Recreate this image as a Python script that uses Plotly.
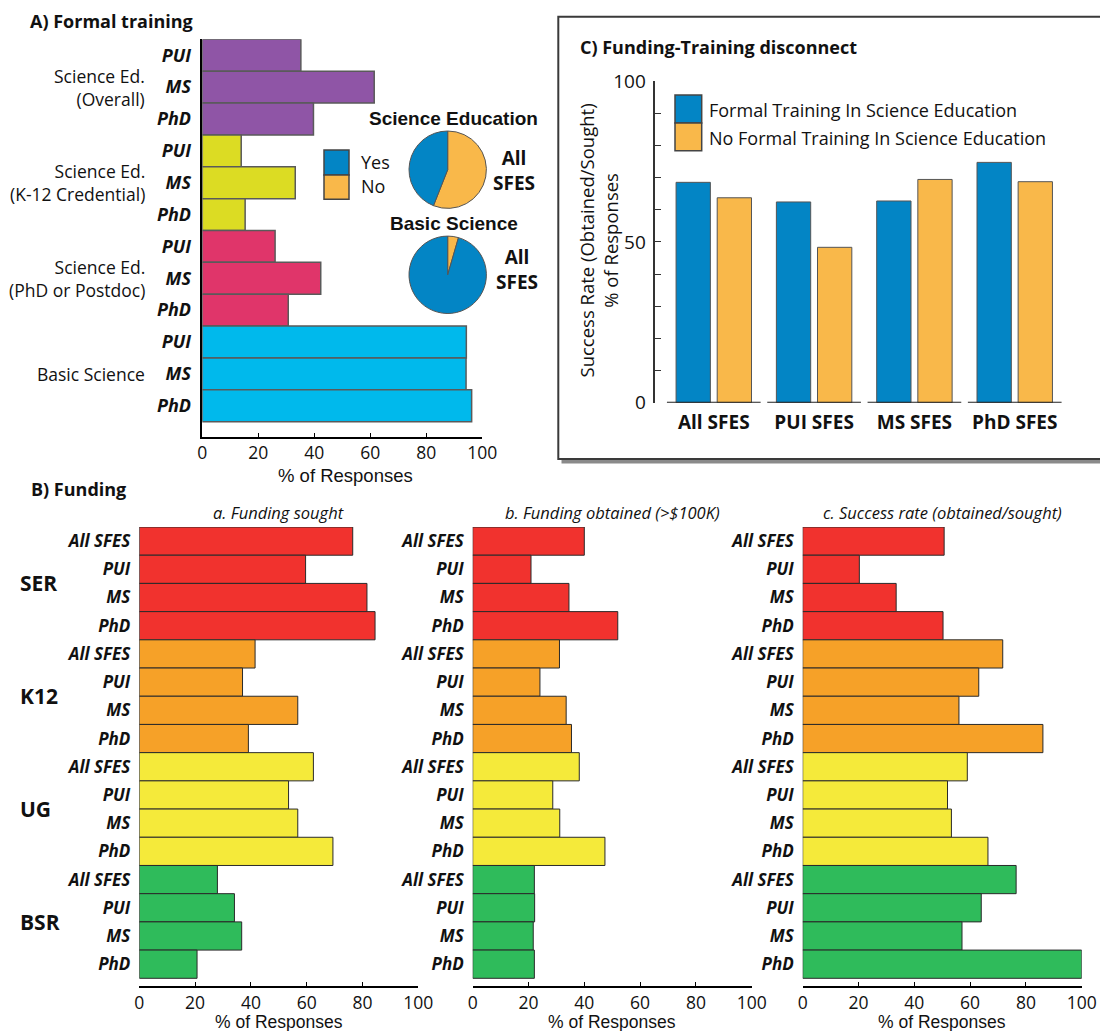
import plotly.graph_objects as go

W, H = 1100, 1031


def fx(px):
    return px / W


def fy(py):
    return 1 - py / H


SANS = "Open Sans"
ARIAL = "Liberation Sans"
INK = "#111111"

# ---------------- A) Formal training ----------------
formal_groups = ["Science Ed.<br>(Overall)", "Science Ed.<br>(K-12 Credential)",
                 "Science Ed.<br>(PhD or Postdoc)", "Basic Science"]
formal_levels = ["PUI", "MS", "PhD"]
formal_overall = [35.2, 61.4, 39.7]
formal_k12 = [13.9, 33.2, 15.3]
formal_phd_postdoc = [26.0, 42.3, 30.7]
formal_basic = [94.3, 94.2, 96.2]
formal_colors = ["#8f55a6", "#dcdc23", "#e0356a", "#00b9ec"]

pie_labels = ["No", "Yes"]
pie_science_ed = [56, 44]
pie_basic_science = [4.5, 95.5]
pie_colors = ["#f9b84a", "#0385c5"]

# ---------------- C) Funding-Training disconnect ----------------
c_categories = ["All SFES", "PUI SFES", "MS SFES", "PhD SFES"]
c_trained = [68.5, 62.4, 62.7, 74.7]
c_untrained = [63.7, 48.3, 69.4, 68.7]
c_series = ["Formal Training In Science Education", "No Formal Training In Science Education"]

# ---------------- B) Funding ----------------
fund_groups = ["SER", "K12", "UG", "BSR"]
fund_rows = ["All SFES", "PUI", "MS", "PhD"]
fund_sought = [76.5, 59.6, 81.6, 84.5,
               41.5, 37.0, 56.8, 39.1,
               62.4, 53.5, 56.8, 69.4,
               28.0, 34.1, 36.7, 20.7]
fund_obtained = [40.0, 20.9, 34.5, 52.0,
                 31.1, 24.1, 33.5, 35.4,
                 38.2, 28.7, 31.2, 47.4,
                 22.1, 22.2, 21.7, 22.1]
fund_success = [50.7, 20.3, 33.5, 50.3,
                71.7, 63.1, 56.0, 86.1,
                59.0, 51.9, 53.3, 66.4,
                76.5, 64.0, 57.1, 100.0]
fund_colors = ["#f1322e", "#f6a128", "#f5ea3a", "#2fbb5b"]
fund_panels = ["a. Funding sought", "b. Funding obtained (>$100K)", "c. Success rate (obtained/sought)"]

fig = go.Figure()

# ---- Panel A bars ----
formal_values = formal_overall + formal_k12 + formal_phd_postdoc + formal_basic
n_lv = len(formal_levels)
formal_bar_colors = [formal_colors[i // n_lv] for i in range(len(formal_values))]
formal_pos = list(range(len(formal_values)))
fig.add_trace(go.Bar(
    x=formal_values, y=formal_pos, orientation="h", width=1,
    marker=dict(color=formal_bar_colors, line=dict(color="#5a5a5a", width=1.5)),
    xaxis="x", yaxis="y", showlegend=False, hoverinfo="x"))

# ---- Panel A pies ----
for vals, cy in ((pie_science_ed, 169.7), (pie_basic_science, 274.8)):
    r = 38.7
    fig.add_trace(go.Pie(
        labels=pie_labels, values=vals, sort=False, direction="clockwise", rotation=0,
        marker=dict(colors=pie_colors, line=dict(color="#555555", width=1)),
        textinfo="none", hoverinfo="label+percent", showlegend=False,
        domain=dict(x=[fx(447.7 - r), fx(447.7 + r)], y=[fy(cy + r), fy(cy - r)])))

# ---- Panel C bars ----
c_pos = list(range(len(c_categories)))
for vals, color, off, name in ((c_trained, pie_colors[1], -0.376, c_series[0]),
                               (c_untrained, pie_colors[0], 0.034, c_series[1])):
    fig.add_trace(go.Bar(
        x=c_pos, y=vals, width=0.342, offset=off, name=name,
        marker=dict(color=color, line=dict(color="#555555", width=1)),
        xaxis="x2", yaxis="y2", showlegend=False))

# ---- Panel B bars ----
fund_pos = list(range(len(fund_sought)))
n_rows = len(fund_rows)
fund_bar_colors = [fund_colors[i // n_rows] for i in fund_pos]
for k, vals in enumerate((fund_sought, fund_obtained, fund_success)):
    fig.add_trace(go.Bar(
        x=vals, y=fund_pos, orientation="h", width=1,
        marker=dict(color=fund_bar_colors, line=dict(color="#2a2a2a", width=1)),
        xaxis=f"x{k + 3}", yaxis=f"y{k + 3}", showlegend=False, hoverinfo="x"))

tick_font = dict(family=SANS, size=17.5, color=INK)
bi_font = dict(family=SANS, size=18, color=INK)

layout_axes = {}
# Panel A axes
layout_axes["xaxis"] = dict(
    domain=[fx(202.3), fx(482.3)], range=[0, 100], anchor="y", automargin=False,
    tickvals=[0, 20, 40, 60, 80, 100], ticks="inside", ticklen=4, tickcolor="black",
    showline=True, linecolor="black", linewidth=1.5, showgrid=False, zeroline=False,
    ticklabelstandoff=0, tickfont=tick_font)
layout_axes["yaxis"] = dict(
    domain=[fy(436.5), fy(39.3)], range=[11.964, -0.5], anchor="x", automargin=False,
    tickvals=formal_pos, ticktext=[f"<b><i>{formal_levels[i % n_lv]}</i></b>" for i in formal_pos],
    ticks="", ticklabelstandoff=6, showline=True, linecolor="black", linewidth=1.5,
    showgrid=False, zeroline=False, tickfont=bi_font)

# Panel C axes
layout_axes["xaxis2"] = dict(
    domain=[fx(655.3), 1.0], range=[-0.583, 3.85], anchor="y2", automargin=False,
    tickvals=c_pos, ticktext=[f"<b>{c}</b>" for c in c_categories],
    ticks="", showline=False, showgrid=False, zeroline=False, ticklabelstandoff=6,
    tickfont=dict(family=SANS, size=19, color=INK))
c_ticks = list(range(0, 101, 10))
layout_axes["yaxis2"] = dict(
    domain=[fy(402.7), fy(81)], range=[0, 100], anchor="x2", automargin=False,
    tickvals=c_ticks, ticktext=[str(t) if t % 50 == 0 else "" for t in c_ticks],
    ticks="inside", ticklen=6, tickcolor="#333333", showline=True, linecolor="#333333",
    linewidth=1.5, showgrid=False, zeroline=False, ticklabelstandoff=4,
    tickfont=dict(family=SANS, size=19, color=INK))

# Panel B axes
b_domains = [(139.3, 418.3), (472.7, 751.7), (802.7, 1081.7)]
for k, (x0, x1) in enumerate(b_domains):
    i = k + 3
    layout_axes[f"xaxis{i}"] = dict(
        domain=[fx(x0), fx(x1)], range=[0, 100], anchor=f"y{i}", automargin=False,
        tickvals=[0, 20, 40, 60, 80, 100], ticks="inside", ticklen=4, tickcolor="black",
        showline=True, linecolor="black", linewidth=1.5, showgrid=False, zeroline=False,
        ticklabelstandoff=0, tickfont=tick_font)
    layout_axes[f"yaxis{i}"] = dict(
        domain=[fy(986), fy(527)], range=[15.773, -0.5], anchor=f"x{i}", automargin=False,
        tickvals=fund_pos, ticktext=[f"<b><i>{fund_rows[j % n_rows]}</i></b>" for j in fund_pos],
        ticks="", ticklabelstandoff=8, showline=False, showgrid=False, zeroline=False,
        tickfont=dict(family=SANS, size=17, color=INK))

annotations = []


def note(text, x, y, size=17, family=SANS, xanchor="center", yanchor="middle", **kw):
    annotations.append(dict(text=text, x=fx(x), y=fy(y), xref="paper", yref="paper",
                            xanchor=xanchor, yanchor=yanchor, showarrow=False,
                            font=dict(family=family, size=size, color=INK), **kw))


# Panel A texts
note("<b>A) Formal training</b>", 28, 20.7, size=18, xanchor="left")
for g, label in enumerate(formal_groups):
    annotations.append(dict(text=label, x=fx(147), xref="paper", y=g * n_lv + 1, yref="y",
                            xanchor="right", yanchor="middle", align="right", showarrow=False,
                            font=dict(family=SANS, size=17.5, color=INK)))
note("% of Responses", 345, 475, size=18.5, family=ARIAL)
note("<b>Science Education</b>", 453.5, 118.3, size=19, family=ARIAL)
note("<b>Basic Science</b>", 453.5, 223, size=19, family=ARIAL)
note("<b>All<br>SFES</b>", 514, 171, size=19, family=SANS)
note("<b>All<br>SFES</b>", 517, 270, size=19, family=SANS)
note("Yes", 359, 162, size=18, xanchor="left")
note("No", 359, 186, size=18, xanchor="left")

# Panel C texts
note("<b>C) Funding-Training disconnect</b>", 578, 46.7, size=18, xanchor="left")
note("Success Rate (Obtained/Sought)<br>% of Responses", 598.5, 241, size=18.5, textangle=-90)
note(c_series[0], 707, 110, size=18, xanchor="left")
note(c_series[1], 707, 138, size=18, xanchor="left")

# Panel B texts
note("<b>B) Funding</b>", 29, 489, size=18, xanchor="left")
for (x0, x1), title in zip(b_domains, fund_panels):
    note(f"<i>{title}</i>", (x0 + x1) / 2, 512.5, size=16.5)
    note("% of Responses", (x0 + x1) / 2, 1021.5, size=17.5, family=ARIAL)
for g, name in enumerate(fund_groups):
    annotations.append(dict(text=f"<b>{name}</b>", x=fx(18), xref="paper",
                            y=g * n_rows + 1.5, yref="y3", xanchor="left", yanchor="middle",
                            showarrow=False, font=dict(family=SANS, size=21, color=INK)))

shapes = []
# Panel C frame with drop shadow
shapes.append(dict(type="rect", xref="paper", yref="paper", layer="below",
                   x0=fx(561.5), x1=fx(1106), y0=fy(463.5), y1=fy(20),
                   fillcolor="#8a8a8a", line=dict(width=0)))
shapes.append(dict(type="rect", xref="paper", yref="paper", layer="below",
                   x0=fx(558.3), x1=fx(1103), y0=fy(459), y1=fy(16.7),
                   fillcolor="white", line=dict(color="#3a3a3a", width=2)))
# Panel C baselines under each category
for i in c_pos:
    shapes.append(dict(type="line", xref="x2", yref="y2", x0=i - 0.467, x1=i + 0.467,
                       y0=0, y1=0, line=dict(color="#222222", width=2)))
# Legend swatches (pies and panel C)
for (x0, x1, y0, y1, col) in ((324, 349, 150, 175, pie_colors[1]),
                              (324, 349, 175, 199.3, pie_colors[0]),
                              (675, 701.7, 95, 123, pie_colors[1]),
                              (675, 701.7, 123, 150.7, pie_colors[0])):
    shapes.append(dict(type="rect", xref="paper", yref="paper",
                       x0=fx(x0), x1=fx(x1), y0=fy(y1), y1=fy(y0),
                       fillcolor=col, line=dict(color="#444444", width=1.5)))

fig.update_layout(
    width=W, height=H, margin=dict(l=0, r=0, t=0, b=0, autoexpand=False),
    paper_bgcolor="white", plot_bgcolor="rgba(0,0,0,0)",
    barmode="overlay", showlegend=False,
    annotations=annotations, shapes=shapes,
    **layout_axes)

fig.write_html("out.html")
